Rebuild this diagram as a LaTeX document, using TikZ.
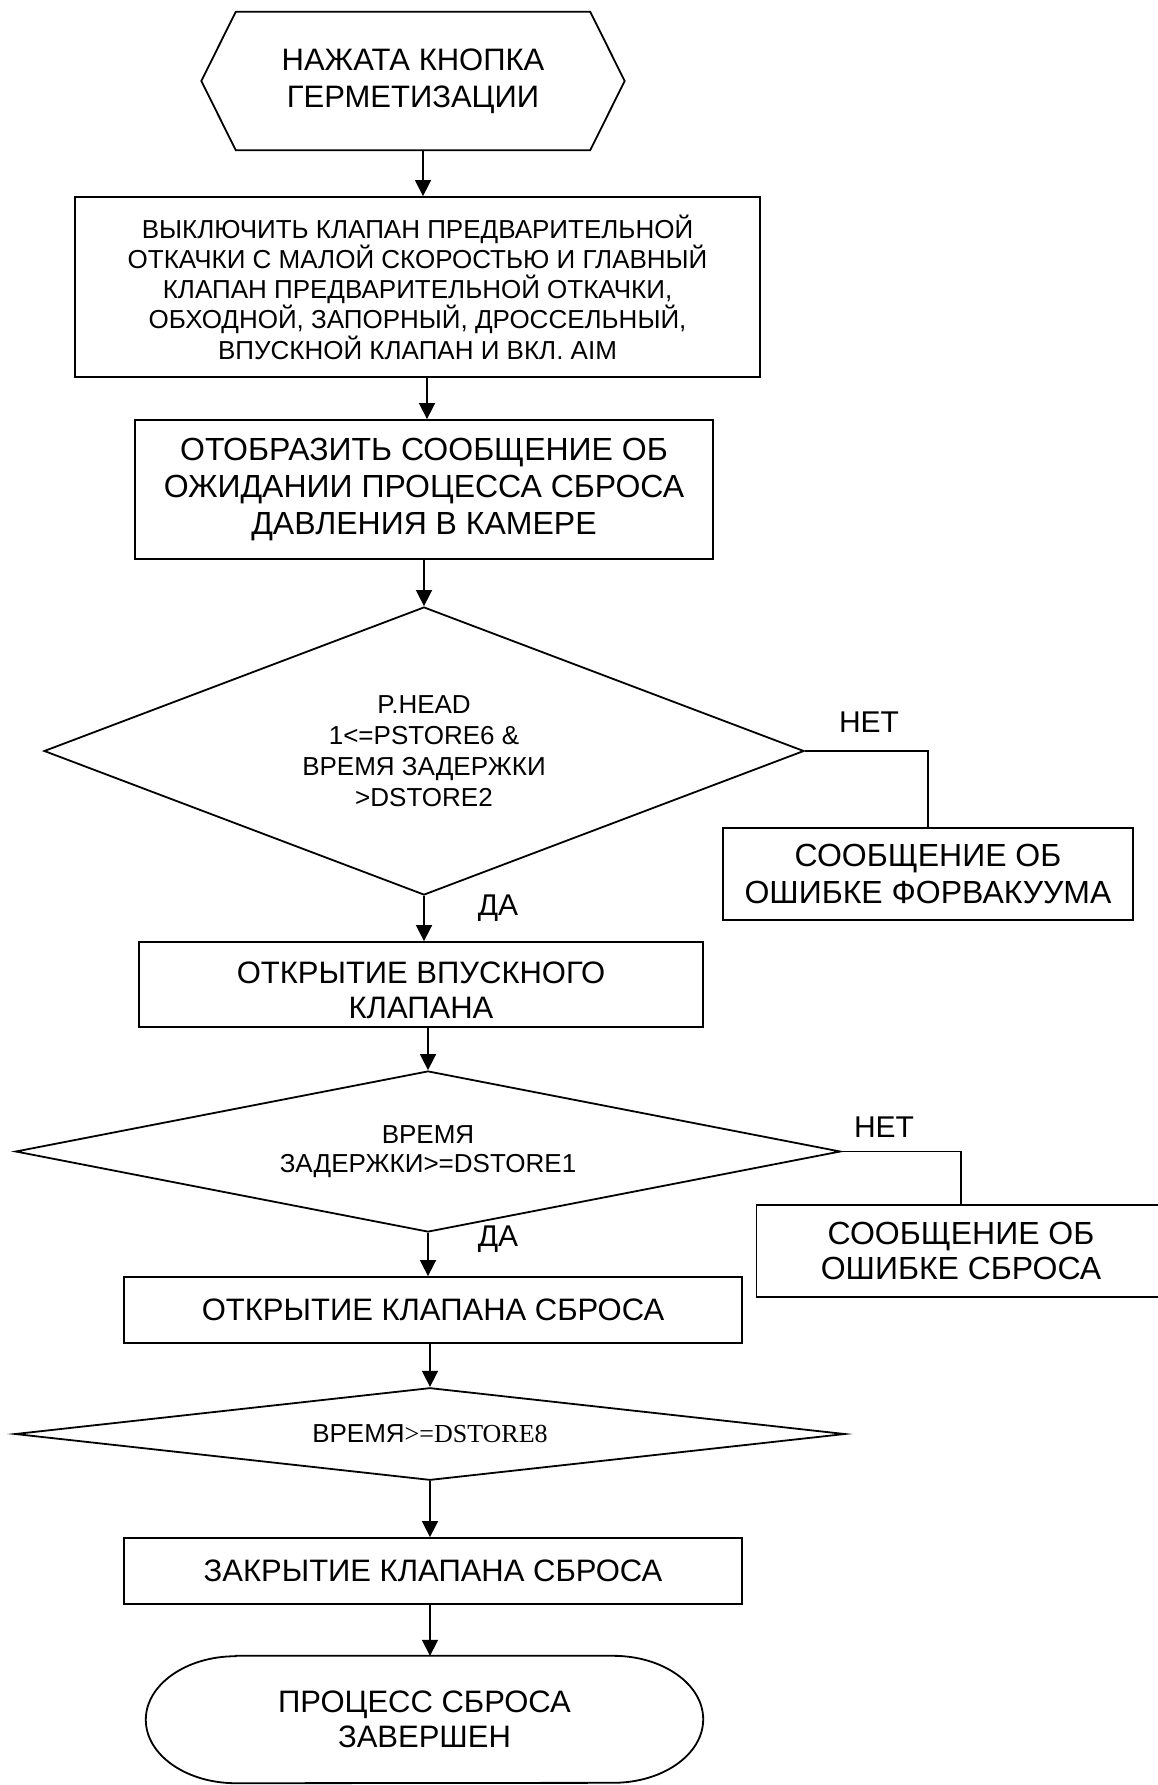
\documentclass[tikz,border=0pt]{standalone}
\usepackage{fontspec}
\setmainfont{Liberation Sans}
\newfontfamily\tnr{Liberation Serif}
\usetikzlibrary{shapes.geometric,arrows.meta}
\tikzset{
  shp/.style={draw=black,line width=1.8pt,inner sep=0pt,align=center},
  box/.style={shp,rectangle},
  dia/.style={shp,diamond},
  ghost/.style={rectangle,inner sep=0pt,align=center},
  conn/.style={line width=1.6pt},
  arr/.style={conn,-{Triangle[length=16pt,width=16pt]}},
  fA/.style={font=\fontsize{31}{37}\selectfont},
  fB/.style={font=\fontsize{26}{30.3}\selectfont},
  fC/.style={font=\fontsize{32}{37}\selectfont},
  fD/.style={font=\fontsize{26}{31}\selectfont},
  fE/.style={font=\fontsize{31}{35}\selectfont},
  fL/.style={font=\fontsize{30}{36}\selectfont},
}
\begin{document}
\begin{tikzpicture}[x=1pt,y=-1pt]
\useasboundingbox[fill=white] (0,0) rectangle (1157,1785);

% start hexagon
\node[ghost,fA,minimum width=354pt,minimum height=138pt] (start) at (413,81) {НАЖАТА КНОПКА\\ГЕРМЕТИЗАЦИИ};
\draw[line width=1.8pt] (start.north west) -- (start.north east) -- ([xshift=34.5pt]start.east) -- (start.south east) -- (start.south west) -- ([xshift=-34.5pt]start.west) -- cycle;

\node[box,fB,minimum width=685pt,minimum height=180pt] (b1) at (417.5,287)
 {ВЫКЛЮЧИТЬ КЛАПАН ПРЕДВАРИТЕЛЬНОЙ\\ОТКАЧКИ С МАЛОЙ СКОРОСТЬЮ И ГЛАВНЫЙ\\КЛАПАН ПРЕДВАРИТЕЛЬНОЙ ОТКАЧКИ,\\ОБХОДНОЙ, ЗАПОРНЫЙ, ДРОССЕЛЬНЫЙ,\\ВПУСКНОЙ КЛАПАН И ВКЛ. AIM};

\node[box,fC,minimum width=578pt,minimum height=139pt] (b2) at (424,489.5)
 {ОТОБРАЗИТЬ СООБЩЕНИЕ ОБ\\ОЖИДАНИИ ПРОЦЕССА СБРОСА\\ДАВЛЕНИЯ В КАМЕРЕ};

\node[dia,fD,aspect=2.639,minimum width=760pt,minimum height=288pt] (d1) at (424,751)
 {P.HEAD\\1<=PSTORE6 \&\\ВРЕМЯ ЗАДЕРЖКИ\\>DSTORE2};

\node[box,minimum width=410pt,minimum height=92pt,font=\fontsize{32}{36.5}\selectfont] (e1) at (928,874)
 {СООБЩЕНИЕ ОБ\\ОШИБКЕ ФОРВАКУУМА};

\node[ghost,fL] (no1) at (869,722) {НЕТ};
\node[ghost,fL] (yes1) at (498,908) {ДА};

\node[box,minimum width=564pt,minimum height=85pt] (b3) at (421,984.5) {};
\node[ghost,fE] (b3t) at (421,990.5) {ОТКРЫТИЕ ВПУСКНОГО\\КЛАПАНА};

\node[dia,aspect=5.124,minimum width=825pt,minimum height=161pt,font=\fontsize{26}{28.7}\selectfont] (d2) at (428,1151.5)
 {ВРЕМЯ\\ЗАДЕРЖКИ>=DSTORE1};

\node[box,minimum width=409pt,minimum height=92pt,font=\fontsize{32}{35.5}\selectfont] (e2) at (961,1251)
 {СООБЩЕНИЕ ОБ\\ОШИБКЕ СБРОСА};

\node[ghost,fL] (no2) at (884,1127) {НЕТ};
\node[ghost,fL] (yes2) at (498,1239) {ДА};

\node[box,fE,minimum width=618pt,minimum height=66pt] (b4) at (433,1310)
 {ОТКРЫТИЕ КЛАПАНА СБРОСА};

\node[dia,fD,aspect=8.973,minimum width=830pt,minimum height=92.5pt] (d3) at (430,1434)
 {ВРЕМЯ{\tnr >=DSTORE8}};

\node[box,fE,minimum width=618pt,minimum height=66pt] (b5) at (433,1571)
 {ЗАКРЫТИЕ КЛАПАНА СБРОСА};

% terminal
\node[ghost,fE,minimum width=557pt,minimum height=127pt] (fin) at (424.5,1719.5)
 {ПРОЦЕСС СБРОСА\\ЗАВЕРШЕН};
\draw[line width=1.8pt] ([xshift=90pt]fin.north west) -- ([xshift=-90pt]fin.north east)
  arc[start angle=90,end angle=-90,x radius=90pt,y radius=63.5pt]
  -- ([xshift=90pt]fin.south west)
  arc[start angle=270,end angle=90,x radius=90pt,y radius=63.5pt] -- cycle;

% connectors
\draw[arr] ([xshift=10pt]start.south) -- ([xshift=10pt]start.south |- b1.north);
\draw[arr] ([xshift=9.5pt]b1.south) -- ([xshift=9.5pt]b1.south |- b2.north);
\draw[arr] (b2.south -| d1.north) -- (d1.north);
\draw[arr] (d1.south) -- (d1.south |- b3.north);
\draw[conn] (d1.east) -| (e1.north);
\draw[arr] (d2.north |- b3.south) -- (d2.north);
\draw[arr] (d2.south) -- (d2.south |- b4.north);
\draw[conn] (d2.east) -| (e2.north);
\draw[arr] (d3.north |- b4.south) -- (d3.north);
\draw[arr] (d3.south) -- (d3.south |- b5.north);
\draw[arr] (d3.south |- b5.south) -- (d3.south |- fin.north);
\end{tikzpicture}
\end{document}
